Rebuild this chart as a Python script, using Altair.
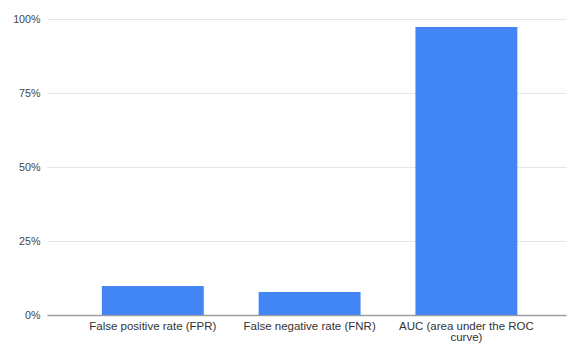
import altair as alt
import pandas as pd

categories = ["False positive rate (FPR)", "False negative rate (FNR)", "AUC (area under the ROC curve)"]
values = [0.098, 0.078, 0.973]
y_ticks = [0, 0.25, 0.5, 0.75, 1.0]

df = pd.DataFrame({"metric": categories, "value": values})

label_expr = ("datum.value == 'AUC (area under the ROC curve)' ? "
              "['AUC (area under the ROC', 'curve)'] : datum.value")

chart = alt.Chart(df).mark_bar(color="#4285F4").encode(
    x=alt.X("metric:N", sort=categories, title=None,
            scale=alt.Scale(paddingInner=0.35, paddingOuter=0.33, align=0.53),
            axis=alt.Axis(labelAngle=0, labelExpr=label_expr, ticks=False,
                          domainColor="#9e9e9e", domainWidth=1.5,
                          labelFont="Liberation Sans", labelFontSize=11.5,
                          labelColor="#333333", labelPadding=5,
                          labelLineHeight=11, labelLimit=200)),
    y=alt.Y("value:Q", title=None,
            scale=alt.Scale(domain=[0, 1], nice=False),
            axis=alt.Axis(values=y_ticks, format=".0%", ticks=False, domain=False,
                          gridColor="#e6e6e6", labelFont="Liberation Sans",
                          labelFontSize=10.7, labelColor="#444444", labelPadding=7)),
).properties(
    width=519, height=296,
    autosize="none",
    padding={"left": 47, "top": 19, "right": 3, "bottom": 29},
    background="white",
).configure_view(stroke=None)

chart.save("out.html", embed_options={"renderer": "svg", "actions": False})
